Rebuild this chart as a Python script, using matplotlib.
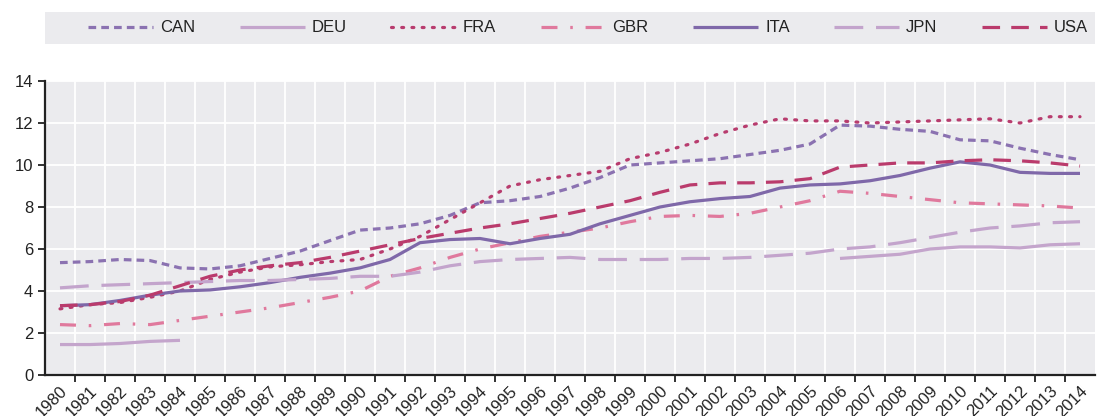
import numpy as np
import matplotlib.pyplot as plt
from matplotlib.ticker import FixedLocator
from matplotlib.patches import Rectangle

years = list(range(1980, 2015))

can = [5.35, 5.4, 5.5, 5.45, 5.1, 5.05, 5.2, 5.55, 5.9, 6.4, 6.9, 7.0, 7.2, 7.6, 8.2, 8.3, 8.5,
       8.9, 9.4, 10.0, 10.1, 10.2, 10.3, 10.5, 10.7, 11.0, 11.9, 11.85, 11.7, 11.6, 11.2, 11.15,
       10.8, 10.5, 10.25]
deu = [1.45, 1.45, 1.5, 1.6, 1.65] + [np.nan] * 21 + [5.55, 5.65, 5.75, 6.0, 6.1, 6.1, 6.05, 6.2, 6.25]
fra = [3.15, 3.35, 3.45, 3.7, 4.0, 4.55, 4.9, 5.15, 5.25, 5.4, 5.5, 6.0, 6.6, 7.4, 8.2, 9.0, 9.3,
       9.5, 9.7, 10.3, 10.6, 11.0, 11.5, 11.9, 12.2, 12.1, 12.1, 12.0, 12.05, 12.1, 12.15, 12.2,
       12.0, 12.3, 12.3]
gbr = [2.4, 2.35, 2.45, 2.4, 2.6, 2.8, 3.0, 3.2, 3.45, 3.7, 4.0, 4.7, 5.1, 5.6, 6.0, 6.3, 6.6,
       6.8, 7.0, 7.3, 7.55, 7.6, 7.55, 7.7, 8.0, 8.3, 8.75, 8.65, 8.5, 8.35, 8.2, 8.15, 8.1, 8.05, 7.95]
ita = [3.3, 3.35, 3.55, 3.8, 4.0, 4.05, 4.2, 4.4, 4.65, 4.85, 5.1, 5.5, 6.3, 6.45, 6.5, 6.25, 6.5,
       6.7, 7.2, 7.6, 8.0, 8.25, 8.4, 8.5, 8.9, 9.05, 9.1, 9.25, 9.5, 9.85, 10.15, 10.0, 9.65, 9.6, 9.6]
jpn = [4.15, 4.25, 4.3, 4.35, 4.4, 4.45, 4.5, 4.5, 4.55, 4.6, 4.7, 4.7, 4.9, 5.2, 5.4, 5.5, 5.55,
       5.6, 5.5, 5.5, 5.5, 5.55, 5.55, 5.6, 5.7, 5.8, 6.0, 6.1, 6.3, 6.55, 6.8, 7.0, 7.1, 7.25, 7.3]
usa = [3.3, 3.35, 3.5, 3.8, 4.25, 4.7, 5.0, 5.2, 5.35, 5.6, 5.9, 6.2, 6.5, 6.75, 7.0, 7.2, 7.45,
       7.7, 8.0, 8.3, 8.7, 9.05, 9.15, 9.15, 9.2, 9.35, 9.9, 10.0, 10.1, 10.1, 10.2, 10.25, 10.2,
       10.1, 9.95]

series = [
    ("CAN", can, "#8B72B1", (0, (2.4, 1.6))),
    ("DEU", deu, "#C4A5CC", "-"),
    ("FRA", fra, "#B83C6E", (0, (0.6, 2.6))),
    ("GBR", gbr, "#E0799D", (0, (5, 4, 0.8, 4))),
    ("ITA", ita, "#7F68A9", "-"),
    ("JPN", jpn, "#C3A4CC", (0, (9, 4))),
    ("USA", usa, "#BA3B6C", (0, (5.5, 3.5))),
]

plt.rcParams['font.family'] = ['Liberation Sans Narrow', 'Liberation Sans', 'DejaVu Sans']

fig = plt.figure(figsize=(10.98, 4.16), dpi=100)
ax = fig.add_axes([45 / 1098, 1 - 375 / 416, 1050 / 1098, 294 / 416])
ax.set_facecolor("#EBEBEE")

x = np.arange(len(years))
for name, vals, col, ls in series:
    cap = "round" if name == "FRA" else "butt"
    ax.plot(x, vals, color=col, lw=2.3, linestyle=ls, label=name,
            dash_capstyle=cap, solid_capstyle="butt")

ax.set_xlim(-0.5, len(years) - 0.5)
ax.set_ylim(0, 14)
ax.set_yticks(np.arange(0, 15, 2))
ax.set_xticks(x)
ax.set_xticklabels([str(y) for y in years], rotation=45, ha="right", va="top",
                   rotation_mode="anchor")
ax.xaxis.set_minor_locator(FixedLocator(np.arange(0.5, len(years) - 0.5, 1)))
ax.tick_params(axis="x", which="major", length=0, pad=6, labelsize=12, colors="#222222")
ax.tick_params(axis="x", which="minor", length=5, width=1.3, color="#222222", direction="out")
ax.tick_params(axis="y", length=5, width=1.3, color="#222222", labelsize=12, labelcolor="#222222")
ax.grid(True, which="minor", axis="x", color="white", lw=1.3)
ax.grid(True, which="major", axis="y", color="white", lw=1.3)
ax.set_axisbelow(True)
for s in ["top", "right"]:
    ax.spines[s].set_visible(False)
for s in ["left", "bottom"]:
    ax.spines[s].set_color("#222222")
    ax.spines[s].set_linewidth(1.6)

# legend band
fig.patches.append(Rectangle((45 / 1098, 1 - 44 / 416), 1050 / 1098, 32 / 416,
                             transform=fig.transFigure, facecolor="#EBEBEE",
                             edgecolor="none", zorder=0))
leg = fig.legend(loc="center left", bbox_to_anchor=(88 / 1098, 1 - 44 / 416, 1000 / 1098, 32 / 416),
                 ncol=7, mode="expand", frameon=False, fontsize=12, handlelength=3.9,
                 borderaxespad=0, borderpad=0, handletextpad=0.4)
for t in leg.get_texts():
    t.set_color("#222222")

fig.savefig("out.png", dpi=100)
